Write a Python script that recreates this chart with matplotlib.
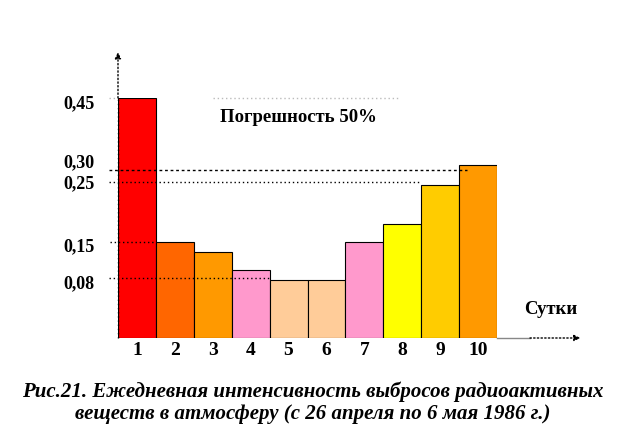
import numpy as np
import matplotlib
matplotlib.use('Agg')
import matplotlib.pyplot as plt
from matplotlib.transforms import ScaledTranslation

plt.rcParams['font.family'] = ['Liberation Serif', 'DejaVu Serif']

# сутки 1..10 (26 апреля - 6 мая 1986)
days = [1, 2, 3, 4, 5, 6, 7, 8, 9, 10]
values = [0.45, 0.15, 0.13, 0.095, 0.077, 0.077, 0.15, 0.18, 0.245, 0.31]
colors = ['#FF0000', '#FF6600', '#FF9900', '#FF99CC', '#FFCC99',
          '#FFCC99', '#FF99CC', '#FFFF00', '#FFCC00', '#FF9900']

ytick_vals = [0.08, 0.15, 0.25, 0.30, 0.45]
ytick_labels = ['0,08', '0,15', '0,25', '0,30', '0,45']

# the original axis is schematic (not linear): anchor values -> relative height
scale_vals = [0, 0.08, 0.15, 0.25, 0.30, 0.45, 1.0]
scale_pos = [0, 60, 96, 156, 168, 240, 520]

def fwd(v):
    return np.interp(v, scale_vals, scale_pos)

def inv(p):
    return np.interp(p, scale_pos, scale_vals)


fig = plt.figure(figsize=(6.28, 4.36), dpi=100)
ax = fig.add_axes([118/628, 98/436, 379/628, 240/436])
ax.set_yscale('function', functions=(fwd, inv))

ax.bar(days, values, width=1.0, color=colors, edgecolor='black', linewidth=0.8, zorder=2)

ax.set_xlim(0.5, 10.5)
ax.set_ylim(0, 0.45)
for s in ax.spines.values():
    s.set_visible(False)

dot = (0, (1, 2))
# reference lines
ax.plot([0.25, 0.45], [0.45, 0.45], color='#bbbbbb', lw=1, ls=dot, clip_on=False, zorder=1)
ax.plot([3.0, 7.95], [0.45, 0.45], color='#bbbbbb', lw=1, ls=dot, clip_on=False, zorder=1)
ax.plot([0.25, 9.7], [0.30, 0.30], color='black', lw=1, ls=(0, (2, 2)), clip_on=False, zorder=3)
ax.plot([0.25, 8.5], [0.25, 0.25], color='black', lw=1, ls=dot, clip_on=False, zorder=3)
ax.plot([0.3, 1.5], [0.15, 0.15], color='black', lw=1, ls=dot, clip_on=False, zorder=3)
ax.plot([0.25, 4.5], [0.08, 0.08], color='black', lw=1, ls=dot, clip_on=False, zorder=3)

# axis arrows
ax.plot([0.5, 0.5], [0, 0.45], color='black', lw=1, ls=dot, zorder=3, clip_on=False)
ax.annotate('', xy=(0.5, 0.54), xytext=(0.5, 0.45),
            arrowprops=dict(arrowstyle='-|>', color='black', lw=1, ls=':',
                            mutation_scale=9, shrinkA=0, shrinkB=0),
            annotation_clip=False)
ax.plot([10.5, 11.37], [0, 0], color='#888888', lw=1, clip_on=False)
ax.annotate('', xy=(12.7, 0), xytext=(11.37, 0),
            arrowprops=dict(arrowstyle='-|>', color='black', lw=1, ls=':',
                            mutation_scale=9, shrinkA=0, shrinkB=0),
            annotation_clip=False)

ax.set_xticks(days, [str(d) for d in days])
ax.tick_params(axis='x', length=0, pad=3, labelsize=14)
for lab in ax.get_xticklabels():
    lab.set_fontweight('bold')

ax.set_yticks(ytick_vals, ytick_labels)
ax.tick_params(axis='y', length=0, pad=17, labelsize=13)
shifts = [-4, -3, 0, 9, -4]
for lab, dy in zip(ax.get_yticklabels(), shifts):
    lab.set_fontweight('bold')
    lab.set_transform(lab.get_transform() + ScaledTranslation(0, dy/100, fig.dpi_scale_trans))

ax.text(0.27, 0.92, 'Погрешность 50%', transform=ax.transAxes, fontsize=13.5,
        fontweight='bold', va='center', ha='left')
fig.text(551/628, (436-309)/436, 'Сутки', fontsize=13.5, fontweight='bold',
         ha='center', va='center')

fig.text(313/628, (436-392)/436, 'Рис.21. Ежедневная интенсивность выбросов радиоактивных',
         fontsize=15, fontweight='bold', style='italic', ha='center', va='center')
fig.text(313/628, (436-414)/436, 'веществ в атмосферу (с 26 апреля по 6 мая 1986 г.)',
         fontsize=15, fontweight='bold', style='italic', ha='center', va='center')

fig.savefig('out.png', dpi=100)
